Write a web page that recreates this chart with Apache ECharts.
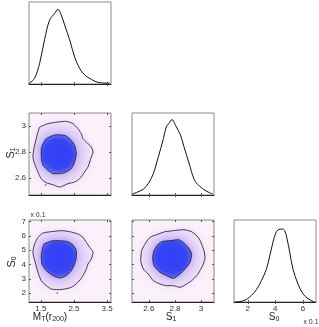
<!DOCTYPE html>
<html><head><meta charset="utf-8">
<script src="https://cdn.jsdelivr.net/npm/echarts@6/dist/echarts.min.js"></script>
<style>html,body{margin:0;padding:0;background:#fff}#c{width:319px;height:327px}</style>
</head><body><div id="c"></div><script>
// ---------- data ----------
// 1D marginal densities (relative height)
const mtPdfX = [1.14,1.157,1.308,1.46,1.61,1.763,1.914,2.015,2.116,2.217,2.369,2.52,2.672,2.823,3.025,3.227,3.58];
const mtPdfY = [0.0,0.01,0.07,0.25,0.54,0.78,0.86,0.91,0.84,0.72,0.54,0.33,0.19,0.11,0.057,0.02,0.01];
const s1PdfX = [2.47,2.503,2.556,2.595,2.634,2.673,2.712,2.733,2.752,2.778,2.804,2.843,2.869,2.908,2.948,2.987,3.039,3.092];
const s1PdfY = [0.01,0.03,0.07,0.14,0.26,0.47,0.69,0.83,0.87,0.92,0.85,0.73,0.59,0.39,0.19,0.11,0.05,0.01];
const s0PdfX = [1.056,1.418,1.90,2.263,2.625,2.99,3.35,3.59,3.83,4.03,4.20,4.51,4.68,4.85,5.04,5.28,5.645,6.007,6.37,6.85];
const s0PdfY = [0,0.005,0.03,0.08,0.15,0.26,0.40,0.56,0.73,0.84,0.88,0.89,0.87,0.77,0.61,0.40,0.22,0.10,0.04,0];

// 2D contours: M_T vs S1
const mtS1Outer = [[1.46,2.992],[1.712,3.018],[2.015,3.031],[2.267,3.036],[2.47,3.018],[2.621,2.98],[2.722,2.941],[2.773,2.903],[2.874,2.877],[3.025,2.839],[3.076,2.80],[3.025,2.762],[2.975,2.724],[2.924,2.685],[2.823,2.647],[2.672,2.595],[2.52,2.57],[2.318,2.557],[2.066,2.531],[1.864,2.549],[1.661,2.564],[1.51,2.595],[1.409,2.647],[1.328,2.698],[1.258,2.762],[1.288,2.826],[1.359,2.903],[1.409,2.954]];
const mtS1Inner = [[1.661,2.903],[1.864,2.928],[2.066,2.933],[2.267,2.923],[2.419,2.89],[2.52,2.851],[2.571,2.787],[2.52,2.724],[2.419,2.672],[2.267,2.647],[2.066,2.634],[1.864,2.634],[1.712,2.66],[1.561,2.698],[1.51,2.762],[1.51,2.826],[1.591,2.877]];
const mtS1Dots = [[1.64,2.547]];
// M_T vs S0 (S0 in units of 0.1)
const mtS0Outer = [[1.409,5.905],[1.561,6.208],[1.813,6.302],[2.116,6.372],[2.369,6.302],[2.621,6.138],[2.773,5.905],[2.874,5.554],[2.975,5.204],[3.076,4.853],[3.025,4.385],[2.924,4.034],[2.874,3.684],[2.773,3.216],[2.621,2.749],[2.419,2.398],[2.217,2.281],[2.015,2.234],[1.813,2.281],[1.661,2.514],[1.51,2.865],[1.409,3.45],[1.328,4.151],[1.258,4.853],[1.308,5.437]];
const mtS0Inner = [[1.591,5.437],[1.813,5.647],[2.066,5.671],[2.318,5.601],[2.47,5.367],[2.571,4.97],[2.571,4.502],[2.52,4.034],[2.419,3.567],[2.267,3.216],[2.066,3.053],[1.864,3.216],[1.661,3.567],[1.53,4.034],[1.51,4.619],[1.54,5.087]];
const mtS0Dots = [[1.994,2.0]];
// S1 vs S0
const s1S0Outer = [[2.57,5.437],[2.608,5.905],[2.672,6.138],[2.724,6.302],[2.788,6.372],[2.864,6.442],[2.928,6.302],[2.979,5.905],[3.005,5.437],[3.023,4.97],[3.031,4.502],[3.018,4.034],[2.992,3.567],[2.967,3.216],[2.928,2.865],[2.89,2.632],[2.839,2.398],[2.788,2.514],[2.736,2.514],[2.685,2.632],[2.634,2.865],[2.595,3.333],[2.557,3.684],[2.537,4.268],[2.544,4.97]];
const s1S0Inner = [[2.66,5.32],[2.698,5.601],[2.762,5.671],[2.826,5.741],[2.864,5.554],[2.903,5.204],[2.928,4.736],[2.916,4.151],[2.877,3.684],[2.839,3.333],[2.788,3.03],[2.736,3.216],[2.685,3.45],[2.639,3.918],[2.629,4.502],[2.639,4.97]];

// axis ranges and ticks
const mtRange = [1.14, 3.62];
const s1Range = [2.47, 3.10];
const s0YRange = [1.37, 7.12];
const s0XRange = [1.0, 6.95];
const pdfRange = [0, 1];
const mtTicks = [1.5, 2.5, 3.5];
const s1Ticks = [2.6, 2.8, 3];
const s0YTicks = [2, 3, 4, 5, 6, 7];
const s0XTicks = [2, 4, 6];

// ---------- chart ----------
const zip = (a, b) => a.map((v, i) => [v, b[i]]);
const FONT = 'Liberation Sans, Arial, sans-serif';
const S = 82;
const grids = [
  {left: 29, top: 2},    // 0: pdf M_T
  {left: 29, top: 113},  // 1: M_T vs S1
  {left: 132, top: 113}, // 2: pdf S1
  {left: 29, top: 220},  // 3: M_T vs S0
  {left: 132, top: 220}, // 4: S1 vs S0
  {left: 234, top: 220}  // 5: pdf S0
];
const is2D = [false, true, false, true, true, false];
const xSpec = [
  [mtRange, mtTicks, false], [mtRange, mtTicks, false], [s1Range, s1Ticks, false],
  [mtRange, mtTicks, true], [s1Range, s1Ticks, true], [s0XRange, s0XTicks, true]
];
const ySpec = [
  [pdfRange, [], false], [s1Range, s1Ticks, true], [pdfRange, [], false],
  [s0YRange, s0YTicks, true], [s0YRange, s0YTicks, false], [pdfRange, [], false]
];

const xAxes = [], yAxes = [];
grids.forEach((g, i) => {
  const [xr, xt, xl] = xSpec[i];
  const [yr, yt, yl] = ySpec[i];
  ['bottom', 'top'].forEach((pos, k) => {
    xAxes.push({
      type: 'value', gridIndex: i, min: xr[0], max: xr[1], position: pos,
      axisLine: {show: k === 0, lineStyle: {color: '#222', width: 1}},
      axisTick: {show: xt.length > 0, inside: true, length: 2, customValues: xt, lineStyle: {color: '#555'}},
      axisLabel: {show: k === 0 && xl, customValues: xt, fontSize: 8, color: '#333', margin: 3, fontFamily: FONT},
      splitLine: {show: false}
    });
  });
  ['left', 'right'].forEach((pos, k) => {
    yAxes.push({
      type: 'value', gridIndex: i, min: yr[0], max: yr[1], position: pos,
      axisLine: {show: false},
      axisTick: {show: yt.length > 0, inside: true, length: 2, customValues: yt, lineStyle: {color: '#555'}},
      axisLabel: {show: k === 0 && yl, customValues: yt, fontSize: 8, color: '#333', margin: 3, fontFamily: FONT},
      splitLine: {show: false}
    });
  });
});

function pdfSeries(gi, xs, ys) {
  return {type: 'line', xAxisIndex: 2 * gi, yAxisIndex: 2 * gi, data: zip(xs, ys),
    smooth: 0.35, showSymbol: false, silent: true,
    lineStyle: {color: '#111', width: 1}};
}
function densitySeries(gi, outer, inner) {
  return {
    type: 'custom', xAxisIndex: 2 * gi, yAxisIndex: 2 * gi, silent: true, clip: true,
    data: [outer[0]],
    renderItem: function (params, api) {
      const op = outer.map(p => api.coord(p));
      const ip = inner.map(p => api.coord(p));
      let cx = 0, cy = 0;
      ip.forEach(p => { cx += p[0]; cy += p[1]; });
      cx /= ip.length; cy /= ip.length;
      const rO = Math.max(...op.map(p => Math.hypot(p[0] - cx, p[1] - cy)));
      const rI = Math.max(...ip.map(p => Math.hypot(p[0] - cx, p[1] - cy)));
      return {type: 'group', children: [
        {type: 'polygon', shape: {points: op, smooth: 0.3},
          style: {fill: new echarts.graphic.RadialGradient(cx, cy, rO * 1.05, [
            {offset: 0, color: '#b8a8f4'}, {offset: 0.5, color: '#d6c5f6'},
            {offset: 0.8, color: '#ead9f8'}, {offset: 1, color: '#f6e9fb'}], true),
            shadowBlur: 7, shadowColor: 'rgba(232,215,247,0.9)'}},
        {type: 'polygon', shape: {points: ip, smooth: 0.3},
          style: {fill: new echarts.graphic.RadialGradient(cx, cy, rI, [
            {offset: 0, color: '#2f3ff5'}, {offset: 0.72, color: '#3646f3'},
            {offset: 0.9, color: '#5d5df1'}, {offset: 1, color: '#8677ef'}], true),
            shadowBlur: 7, shadowColor: 'rgba(150,135,240,0.7)'}}
      ]};
    }
  };
}
function contourSeries(gi, pts) {
  return {type: 'line', xAxisIndex: 2 * gi, yAxisIndex: 2 * gi, data: pts.concat([pts[0]]),
    smooth: 0.2, showSymbol: false, silent: true, lineStyle: {color: '#2a2a2a', width: 0.9}};
}
function dotSeries(gi, pts) {
  return {type: 'scatter', xAxisIndex: 2 * gi, yAxisIndex: 2 * gi, data: pts,
    symbolSize: 1.6, silent: true, itemStyle: {color: '#222'}};
}

const sub = {
  n: {fontSize: 10, lineHeight: 13, fontFamily: FONT, fill: '#222', verticalAlign: 'bottom'},
  s: {fontSize: 7, lineHeight: 5, fontFamily: FONT, fill: '#222', verticalAlign: 'bottom'}
};
function label(text, x, y, rot, size) {
  const rich = JSON.parse(JSON.stringify(sub));
  if (size) { rich.n.fontSize = size; }
  return {type: 'text', x: x, y: y, rotation: rot || 0, silent: true,
    style: {text: text, rich: rich, x: 0, y: 0, align: 'center', verticalAlign: 'middle',
      textAlign: 'center', textVerticalAlign: 'middle'}};
}

const option = {
  animation: false,
  backgroundColor: '#fff',
  grid: grids.map((g, i) => ({left: g.left, top: g.top, width: S, height: S, show: true,
    backgroundColor: is2D[i] ? '#fcf0fb' : '#fff', borderColor: '#8a8a8a', borderWidth: 1, containLabel: false})),
  xAxis: xAxes,
  yAxis: yAxes,
  series: [
    pdfSeries(0, mtPdfX, mtPdfY),
    pdfSeries(2, s1PdfX, s1PdfY),
    pdfSeries(5, s0PdfX, s0PdfY),
    densitySeries(1, mtS1Outer, mtS1Inner),
    densitySeries(3, mtS0Outer, mtS0Inner),
    densitySeries(4, s1S0Outer, s1S0Inner),
    contourSeries(1, mtS1Outer), contourSeries(1, mtS1Inner),
    contourSeries(3, mtS0Outer), contourSeries(3, mtS0Inner),
    contourSeries(4, s1S0Outer), contourSeries(4, s1S0Inner),
    dotSeries(1, mtS1Dots), dotSeries(3, mtS0Dots)
  ],
  graphic: [
    label('{n|S}{s|1}', 10, 153, Math.PI / 2, 11),
    label('{n|S}{s|0}', 11, 262, Math.PI / 2, 11),
    label('{n|M}{s|T}{n|(r}{s|200}{n|)}', 50, 316, 0, 10),
    label('{n|S}{s|1}', 171, 316, 0, 10),
    label('{n|S}{s|0}', 274, 316, 0, 10),
    {type: 'text', x: 38, y: 215, silent: true,
      style: {text: 'x 0.1', x: 0, y: 0, fontSize: 7, fontFamily: FONT, fill: '#333', align: 'center', verticalAlign: 'middle'}},
    {type: 'text', x: 311, y: 322, silent: true,
      style: {text: 'x 0.1', x: 0, y: 0, fontSize: 7, fontFamily: FONT, fill: '#333', align: 'center', verticalAlign: 'middle'}}
  ]
};
const chart = echarts.init(document.getElementById('c'), null, {renderer: 'canvas'});
chart.setOption(option);
</script></body></html>
